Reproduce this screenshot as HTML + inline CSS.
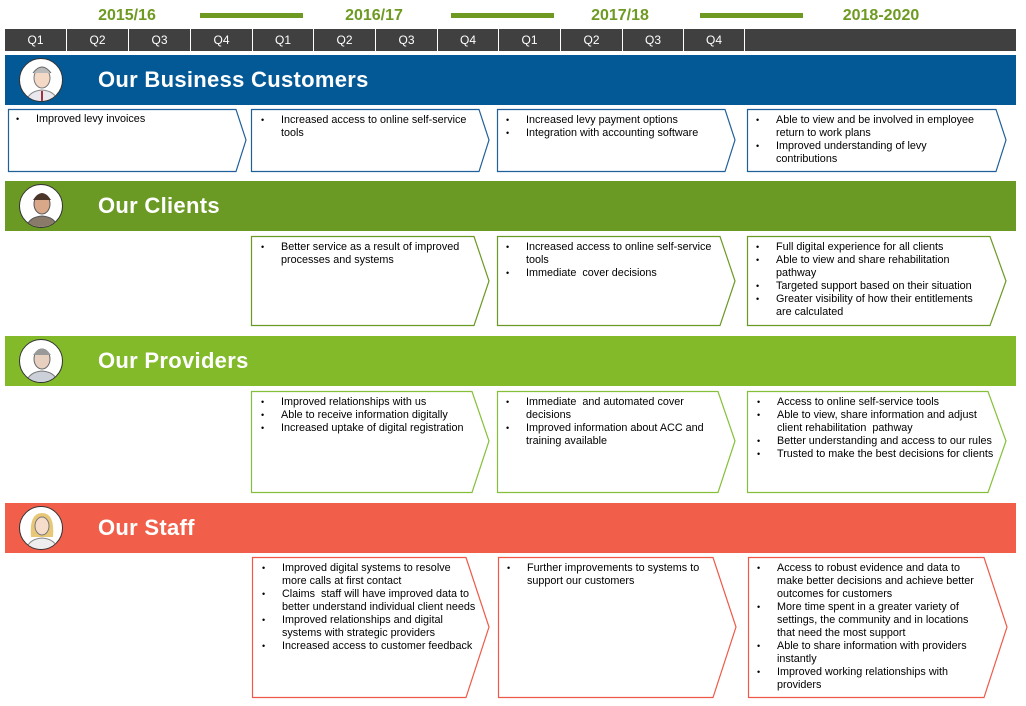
<!DOCTYPE html>
<html><head><meta charset="utf-8"><style>
*{margin:0;padding:0;box-sizing:border-box}
body{width:1026px;height:706px;background:#fff;position:relative;overflow:hidden;font-family:"Liberation Sans",Arial,sans-serif}
.abs{position:absolute}
.yr{position:absolute;top:7px;font-size:16px;font-weight:bold;color:#6e9a22;width:140px;text-align:center}
.gl{position:absolute;top:13px;height:5px;background:#6e9a22}
.q{position:absolute;top:29px;height:22px;background:#404040;color:#fff;font-size:12px;text-align:center;line-height:22px;border-right:1px solid #fff}
.ban{position:absolute;left:5px;width:1011px;height:50px}
.ban span{position:absolute;left:93px;top:0;line-height:50px;color:#fff;font-weight:bold;font-size:22px;letter-spacing:0.3px}
.av{position:absolute;left:14px;top:3px;width:44px;height:44px;border-radius:50%;background:#fff;border:1.5px solid #333;overflow:hidden}
ul{position:absolute;list-style:none;font-size:10.8px;line-height:13px;color:#000;white-space:nowrap}
ul li{position:relative;padding-left:20px}
ul li:before{content:"•";position:absolute;left:0;font-size:9px}
</style></head><body>
<div class="yr" style="left:57px">2015/16</div>
<div class="yr" style="left:304px">2016/17</div>
<div class="yr" style="left:550px">2017/18</div>
<div class="yr" style="left:811px">2018-2020</div>
<div class="gl" style="left:200px;width:103px"></div>
<div class="gl" style="left:451px;width:103px"></div>
<div class="gl" style="left:700px;width:103px"></div>
<div class="q" style="left:5px;width:62px">Q1</div>
<div class="q" style="left:67px;width:62px">Q2</div>
<div class="q" style="left:129px;width:62px">Q3</div>
<div class="q" style="left:191px;width:62px">Q4</div>
<div class="q" style="left:253px;width:61px">Q1</div>
<div class="q" style="left:314px;width:62px">Q2</div>
<div class="q" style="left:376px;width:62px">Q3</div>
<div class="q" style="left:438px;width:61px">Q4</div>
<div class="q" style="left:499px;width:62px">Q1</div>
<div class="q" style="left:561px;width:62px">Q2</div>
<div class="q" style="left:623px;width:61px">Q3</div>
<div class="q" style="left:684px;width:61px">Q4</div>
<div class="q" style="left:745px;width:271px;border:none"></div>

<div class="ban" style="top:55px;background:#035996"><div class="av"><svg width="44" height="44"><ellipse cx="22" cy="19" rx="8" ry="10" fill="#f3d9c6" stroke="#777"/><path d="M13 14 Q22 2 31 14" fill="#bbb" stroke="#666"/><path d="M6 44 Q8 32 22 31 Q36 32 38 44Z" fill="#e8e8ee" stroke="#888"/><path d="M21 32 L23 32 L23 44 L21 44Z" fill="#a03040"/></svg></div><span>Our Business Customers</span></div>
<div class="ban" style="top:181px;background:#6b9a24"><div class="av"><svg width="44" height="44"><ellipse cx="22" cy="19" rx="8" ry="10" fill="#d8a888" stroke="#555"/><path d="M13 15 Q22 1 31 15" fill="#4a3528"/><path d="M6 44 Q8 32 22 31 Q36 32 38 44Z" fill="#8a7a6a" stroke="#555"/></svg></div><span>Our Clients</span></div>
<div class="ban" style="top:336px;background:#82ba2a"><div class="av"><svg width="44" height="44"><ellipse cx="22" cy="19" rx="8" ry="10" fill="#e8d0c0" stroke="#666"/><path d="M13 15 Q22 2 31 15" fill="#999"/><path d="M6 44 Q8 32 22 31 Q36 32 38 44Z" fill="#ccd0d8" stroke="#777"/></svg></div><span>Our Providers</span></div>
<div class="ban" style="top:503px;background:#f15f4a"><div class="av"><svg width="44" height="44"><path d="M11 30 Q9 6 22 6 Q35 6 33 30Z" fill="#e8c878"/><ellipse cx="22" cy="19" rx="7" ry="9" fill="#f5dccb" stroke="#777"/><path d="M6 44 Q8 32 22 31 Q36 32 38 44Z" fill="#eee" stroke="#888"/></svg></div><span>Our Staff</span></div>

<svg class="abs" style="left:0;top:0" width="1026" height="706" fill="#fff" stroke-width="1.2">
<g stroke="#1f5f9a">
<polygon points="8.5,109.5 236,109.5 246,140 236,171.5 8.5,171.5"/>
<polygon points="251.5,109.5 479,109.5 489,140 479,171.5 251.5,171.5"/>
<polygon points="497.5,109.5 725,109.5 735,140 725,171.5 497.5,171.5"/>
<polygon points="747.5,109.5 996,109.5 1006,140 996,171.5 747.5,171.5"/>
</g>
<g stroke="#6b9a24">
<polygon points="251.5,236.5 474,236.5 489,281 474,325.5 251.5,325.5"/>
<polygon points="497.5,236.5 720,236.5 735,281 720,325.5 497.5,325.5"/>
<polygon points="747.5,236.5 990,236.5 1006,281 990,325.5 747.5,325.5"/>
</g>
<g stroke="#86c03a">
<polygon points="251.5,391.5 472,391.5 489,441 472,492.5 251.5,492.5"/>
<polygon points="497.5,391.5 718,391.5 735,441 718,492.5 497.5,492.5"/>
<polygon points="747.5,391.5 988,391.5 1006,441 988,492.5 747.5,492.5"/>
</g>
<g stroke="#ef5a48">
<polygon points="252.5,557.5 466,557.5 489,627 466,697.5 252.5,697.5"/>
<polygon points="498.5,557.5 713,557.5 736,627 713,697.5 498.5,697.5"/>
<polygon points="748.5,557.5 984,557.5 1007,627 984,697.5 748.5,697.5"/>
</g>
</svg>

<ul style="left:16px;top:113px"><li>Improved levy invoices</li></ul>
<ul style="left:261px;top:114px"><li>Increased access to online self-service<br>tools</li></ul>
<ul style="left:506px;top:114px"><li>Increased levy payment options</li><li>Integration with accounting software</li></ul>
<ul style="left:756px;top:114px"><li>Able to view and be involved in employee<br>return to work plans</li><li>Improved understanding of levy<br>contributions</li></ul>

<ul style="left:261px;top:241px"><li>Better service as a result of improved<br>processes and systems</li></ul>
<ul style="left:506px;top:241px"><li>Increased access to online self-service<br>tools</li><li>Immediate &nbsp;cover decisions</li></ul>
<ul style="left:756px;top:241px"><li>Full digital experience for all clients</li><li>Able to view and share rehabilitation<br>pathway</li><li>Targeted support based on their situation</li><li>Greater visibility of how their entitlements<br>are calculated</li></ul>

<ul style="left:261px;top:396px"><li>Improved relationships with us</li><li>Able to receive information digitally</li><li>Increased uptake of digital registration</li></ul>
<ul style="left:506px;top:396px"><li>Immediate &nbsp;and automated cover<br>decisions</li><li>Improved information about ACC and<br>training available</li></ul>
<ul style="left:757px;top:396px"><li>Access to online self-service tools</li><li>Able to view, share information and adjust<br>client rehabilitation &nbsp;pathway</li><li>Better understanding and access to our rules</li><li>Trusted to make the best decisions for clients</li></ul>

<ul style="left:262px;top:562px"><li>Improved digital systems to resolve<br>more calls at first contact</li><li>Claims &nbsp;staff will have improved data to<br>better understand individual client needs</li><li>Improved relationships and digital<br>systems with strategic providers</li><li>Increased access to customer feedback</li></ul>
<ul style="left:507px;top:562px"><li>Further improvements to systems to<br>support our customers</li></ul>
<ul style="left:757px;top:562px"><li>Access to robust evidence and data to<br>make better decisions and achieve better<br>outcomes for customers</li><li>More time spent in a greater variety of<br>settings, the community and in locations<br>that need the most support</li><li>Able to share information with providers<br>instantly</li><li>Improved working relationships with<br>providers</li></ul>
</body></html>
